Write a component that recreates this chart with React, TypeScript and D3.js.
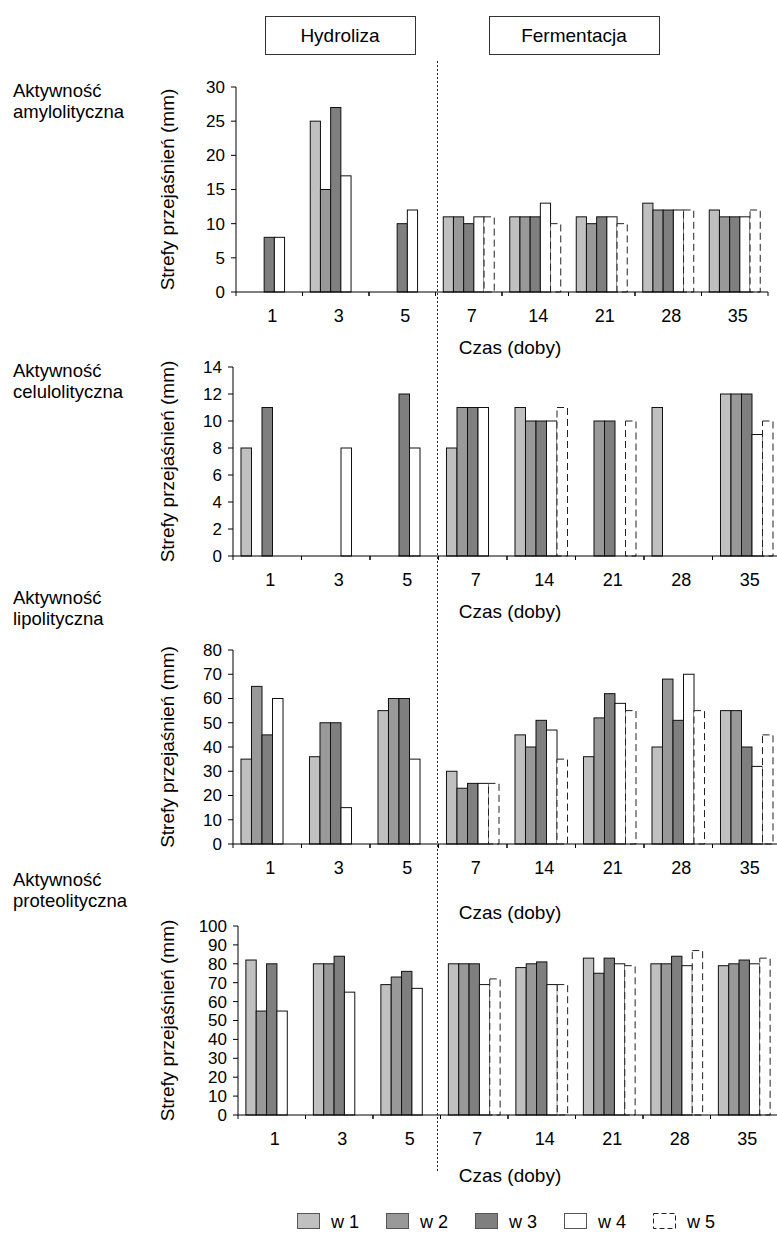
import React from 'react'
import * as d3 from 'd3'

const days = ['1', '3', '5', '7', '14', '21', '28', '35']
const seriesNames = ['w 1', 'w 2', 'w 3', 'w 4', 'w 5']
const seriesFill = ['#c0c0c0', '#999999', '#7f7f7f', '#ffffff', '#ffffff']

// amylolityczna
const amyloW1 = [0, 25, 0, 11, 11, 11, 13, 12]
const amyloW2 = [0, 15, 0, 11, 11, 10, 12, 11]
const amyloW3 = [8, 27, 10, 10, 11, 11, 12, 11]
const amyloW4 = [8, 17, 12, 11, 13, 11, 12, 11]
const amyloW5 = [null, null, null, 11, 10, 10, 12, 12]

// celulolityczna
const celuW1 = [8, 0, 0, 8, 11, 0, 11, 12]
const celuW2 = [0, 0, 0, 11, 10, 10, 0, 12]
const celuW3 = [11, 0, 12, 11, 10, 10, 0, 12]
const celuW4 = [0, 8, 8, 11, 10, 0, 0, 9]
const celuW5 = [null, null, null, 0, 11, 10, 0, 10]

// lipolityczna
const lipoW1 = [35, 36, 55, 30, 45, 36, 40, 55]
const lipoW2 = [65, 50, 60, 23, 40, 52, 68, 55]
const lipoW3 = [45, 50, 60, 25, 51, 62, 51, 40]
const lipoW4 = [60, 15, 35, 25, 47, 58, 70, 32]
const lipoW5 = [null, null, null, 25, 35, 55, 55, 45]

// proteolityczna
const proteoW1 = [82, 80, 69, 80, 78, 83, 80, 79]
const proteoW2 = [55, 80, 73, 80, 80, 75, 80, 80]
const proteoW3 = [80, 84, 76, 80, 81, 83, 84, 82]
const proteoW4 = [55, 65, 67, 69, 69, 80, 79, 80]
const proteoW5 = [null, null, null, 72, 69, 79, 87, 83]

const font = 'Liberation Sans, Arial, sans-serif'

const panels = [
  { label: ['Aktywność', 'amylolityczna'], values: [amyloW1, amyloW2, amyloW3, amyloW4, amyloW5], max: 30, step: 5,
    x0: 236, band: 66.5, top: 87, zero: 292, labelY: 97 },
  { label: ['Aktywność', 'celulolityczna'], values: [celuW1, celuW2, celuW3, celuW4, celuW5], max: 14, step: 2,
    x0: 233, band: 68.5, top: 367, zero: 556, labelY: 377 },
  { label: ['Aktywność', 'lipolityczna'], values: [lipoW1, lipoW2, lipoW3, lipoW4, lipoW5], max: 80, step: 10,
    x0: 233, band: 68.5, top: 650, zero: 844, labelY: 604 },
  { label: ['Aktywność', 'proteolityczna'], values: [proteoW1, proteoW2, proteoW3, proteoW4, proteoW5], max: 100, step: 10,
    x0: 238, band: 67.5, top: 926, zero: 1115, labelY: 886 },
]

function Panel({ p }) {
  const x = d3.scaleBand().domain(days).range([p.x0, p.x0 + p.band * days.length]).padding(0)
  const sub = d3.scaleBand().domain(seriesNames).range([0, x.bandwidth()]).paddingInner(0).paddingOuter(0.76)
  const y = d3.scaleLinear().domain([0, p.max]).range([p.zero, p.top])
  const ticks = d3.range(0, p.max + p.step / 2, p.step)
  const bars = []
  p.values.forEach((vals, si) => {
    vals.forEach((v, di) => {
      if (v == null || v <= 0) return
      bars.push({ s: si, d: days[di], v })
    })
  })
  const xEnd = p.x0 + p.band * days.length
  return (
    <g>
      <text x={13} y={p.labelY} fontSize={18.5} fontFamily={font}>{p.label[0]}</text>
      <text x={13} y={p.labelY + 21} fontSize={18.5} fontFamily={font}>{p.label[1]}</text>
      <text
        transform={`translate(174,${(p.top + p.zero) / 2}) rotate(-90)`}
        textAnchor="middle" fontSize={19} fontFamily={font}
      >Strefy przejaśnień (mm)</text>
      {bars.map((b, i) => (
        <rect key={i}
          x={x(b.d) + sub(seriesNames[b.s])}
          y={y(b.v)}
          width={sub.bandwidth()}
          height={y(0) - y(b.v)}
          fill={seriesFill[b.s]}
          stroke={b.s === 4 ? '#222' : '#111'}
          strokeWidth={1}
          strokeDasharray={b.s === 4 ? '7,4' : null}
        />
      ))}
      <line x1={p.x0} x2={p.x0} y1={p.top} y2={p.zero} stroke="#000" />
      {ticks.map((t) => (
        <g key={t}>
          <line x1={p.x0 - 5} x2={p.x0} y1={y(t)} y2={y(t)} stroke="#000" />
          <text x={p.x0 - 11} y={y(t)} dy="0.35em" textAnchor="end" fontSize={17} fontFamily={font}>{t}</text>
        </g>
      ))}
      <line x1={p.x0} x2={xEnd} y1={p.zero} y2={p.zero} stroke="#000" />
      {days.map((d) => (
        <g key={d}>
          <line x1={x(d)} x2={x(d)} y1={p.zero} y2={p.zero + 4} stroke="#000" />
          <line x1={x(d) + x.bandwidth()} x2={x(d) + x.bandwidth()} y1={p.zero} y2={p.zero + 4} stroke="#000" />
          <text x={x(d) + x.bandwidth() / 2 + 3} y={p.zero + 30} textAnchor="middle" fontSize={18} fontFamily={font}>{d}</text>
        </g>
      ))}
    </g>
  )
}

const czasY = [354, 618, 919, 1182]

export default function App() {
  return (
    <svg width={777} height={1233} style={{ position: 'absolute', left: 0, top: 0, background: '#fff' }}>
      <rect x={0} y={0} width={777} height={1233} fill="#fff" />
      <rect x={265.5} y={16.5} width={150} height={38} fill="#fff" stroke="#333" />
      <text x={340} y={42} textAnchor="middle" fontSize={19} fontFamily={font}>Hydroliza</text>
      <rect x={489.5} y={16.5} width={170} height={38} fill="#fff" stroke="#333" />
      <text x={574} y={42} textAnchor="middle" fontSize={19} fontFamily={font}>Fermentacja</text>
      {panels.map((p, i) => <Panel key={i} p={p} />)}
      {czasY.map((cy, i) => (
        <text key={i} x={510} y={cy} textAnchor="middle" fontSize={19} fontFamily={font}>Czas (doby)</text>
      ))}
      <line x1={437.5} x2={437.5} y1={61} y2={1173} stroke="#222" strokeDasharray="2,2" />
      {seriesNames.map((s, i) => (
        <g key={s} transform={`translate(${297 + i * 89},1213)`}>
          <rect x={0.5} y={0.5} width={22} height={15} fill={seriesFill[i]}
            stroke={i === 4 ? '#222' : '#555'} strokeDasharray={i === 4 ? '5,3' : null} />
          <text x={34} y={15} fontSize={18} fontFamily={font}>{s}</text>
        </g>
      ))}
    </svg>
  )
}
